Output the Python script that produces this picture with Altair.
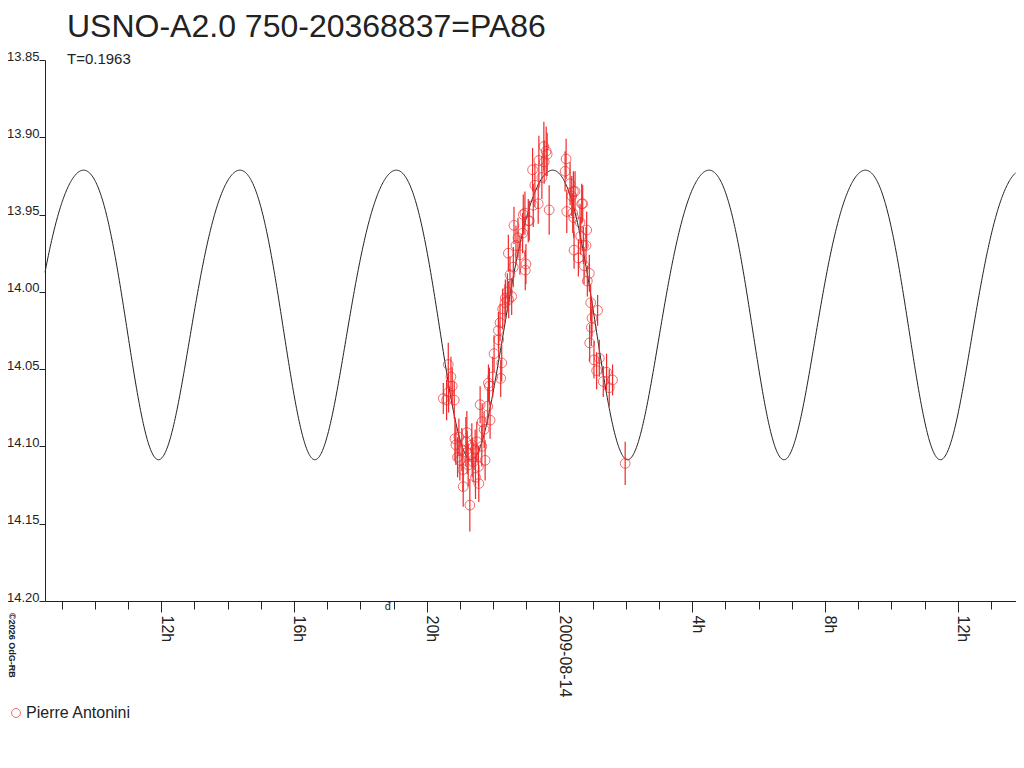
import altair as alt
import pandas as pd

FONT = "Liberation Sans"
RED = "#f02a2a"
INK = "#222222"

# Observations: hours UT counted from 2009-08-13 00:00, magnitude, error
obs_hours = [20.50, 20.60, 20.65, 20.66, 20.73, 20.77, 20.83, 20.85, 20.88, 20.93,
             20.97, 21.00, 21.06, 21.09, 21.10, 21.18, 21.21, 21.22, 21.25, 21.30,
             21.36, 21.37, 21.40, 21.46, 21.47, 21.51, 21.56, 21.57, 21.61, 21.66,
             21.67, 21.73, 21.76, 21.84, 21.86, 21.89, 21.91, 21.99, 22.03, 22.16,
             22.17, 22.21, 22.23, 22.26, 22.29, 22.36, 22.37, 22.43, 22.46, 22.47,
             22.51, 22.56, 22.61, 22.63, 22.69, 22.75, 22.81, 22.89, 22.91, 22.96,
             22.97, 22.99, 23.06, 23.09, 23.19, 23.21, 23.26, 23.36, 23.38, 23.47,
             23.53, 23.54, 23.60, 23.63, 23.69, 24.17, 24.20, 24.22, 24.32, 24.37,
             24.40, 24.42, 24.43, 24.44, 24.47, 24.57, 24.62, 24.64, 24.67, 24.70,
             24.72, 24.74, 24.80, 24.82, 24.84, 24.90, 24.91, 24.94, 24.96, 24.98,
             25.04, 25.12, 25.15, 25.20, 25.32, 25.42, 25.50, 25.60, 25.98]
obs_mag = [14.069, 14.070, 14.047, 14.065, 14.055, 14.061, 14.070, 14.095, 14.099, 14.107,
           14.094, 14.109, 14.102, 14.115, 14.126, 14.097, 14.091, 14.104, 14.112, 14.138,
           14.099, 14.107, 14.110, 14.102, 14.120, 14.097, 14.113, 14.124, 14.073, 14.100,
           14.084, 14.089, 14.109, 14.074, 14.059, 14.061, 14.083, 14.055, 14.040, 14.025,
           14.031, 14.020, 14.056, 14.046, 14.011, 14.007, 14.004, 14.000, 13.975, 14.005,
           13.989, 14.003, 13.984, 13.957, 13.970, 13.965, 13.976, 13.962, 13.950, 13.949,
           13.986, 13.982, 13.954, 13.954, 13.921, 13.944, 13.931, 13.943, 13.915, 13.926,
           13.906, 13.916, 13.909, 13.911, 13.947, 13.922, 13.914, 13.948, 13.930, 13.938,
           13.949, 13.935, 13.952, 13.973, 13.935, 13.978, 13.955, 13.964, 13.943, 13.943,
           13.970, 13.983, 13.970, 13.960, 13.993, 13.988, 14.033, 14.007, 14.023, 14.017,
           14.044, 14.051, 14.012, 14.043, 14.058, 14.052, 14.062, 14.057, 14.111]
obs_err = [0.010, 0.013, 0.014, 0.013, 0.013, 0.012, 0.012, 0.014, 0.013, 0.013,
           0.012, 0.013, 0.014, 0.014, 0.013, 0.016, 0.014, 0.014, 0.014, 0.017,
           0.014, 0.013, 0.013, 0.013, 0.014, 0.013, 0.013, 0.012, 0.012, 0.013,
           0.012, 0.012, 0.013, 0.012, 0.012, 0.012, 0.012, 0.013, 0.012, 0.012,
           0.012, 0.012, 0.012, 0.012, 0.013, 0.012, 0.012, 0.012, 0.012, 0.012,
           0.012, 0.012, 0.013, 0.012, 0.013, 0.013, 0.013, 0.013, 0.013, 0.014,
           0.013, 0.013, 0.014, 0.013, 0.014, 0.014, 0.014, 0.013, 0.016, 0.014,
           0.016, 0.014, 0.016, 0.014, 0.016, 0.013, 0.013, 0.014, 0.014, 0.013,
           0.013, 0.013, 0.013, 0.012, 0.013, 0.012, 0.012, 0.012, 0.013, 0.012,
           0.012, 0.012, 0.012, 0.012, 0.010, 0.012, 0.012, 0.012, 0.012, 0.012,
           0.012, 0.012, 0.010, 0.012, 0.010, 0.012, 0.012, 0.010, 0.014]
observer = "Pierre Antonini"

# Fitted light-curve model (period shown on the chart as T)
PERIOD_DAYS = 0.1963
EPOCH_HOURS = 11.95      # a time of faintest light, hours from 2009-08-13 00:00
MEAN_MAG = 14.006
AMP1 = 0.0935
AMP2_COS = 0.009
AMP2_SIN = -0.0026

x_domain = [8.5, 37.755]
y_domain = [13.85, 14.20]
hour_ticks = list(range(9, 38))     # every hour; labelled every 4 h
y_ticks = [13.85, 13.90, 13.95, 14.00, 14.05, 14.10, 14.15, 14.20]
marker_hours = [18.83]
marker_text = ["đ"]

title_text = "USNO-A2.0 750-20368837=PA86"
subtitle_text = "T=0.1963"
copyright_text = ["©2026 OdG-RB"]

W, H = 971, 541

xscale = alt.Scale(domain=x_domain, nice=False, zero=False)
yscale = alt.Scale(domain=y_domain, reverse=True, nice=False, zero=False)

yaxis = alt.Axis(values=y_ticks, format=".2f", title=None, grid=False,
                 tickSize=6, labelPadding=0, labelBaseline="alphabetic",
                 labelFontSize=13, labelFont=FONT, labelColor=INK,
                 labelFlush=False, labelOverlap=False,
                 domainColor=INK, tickColor=INK)

xaxis = alt.Axis(values=hour_ticks, orient="bottom", title=None, grid=False,
                 tickSize={"condition": {"test": "datum.value % 4 === 0", "value": 11}, "value": 8},
                 labelAngle=90, labelAlign="left",
                 labelBaseline="alphabetic", labelPadding=3,
                 labelFontSize=16, labelFont=FONT, labelColor=INK,
                 labelFlush=False, labelOverlap=False,
                 labelExpr="datum.value % 4 !== 0 ? '' : (datum.value == 24 ? '2009-08-14' : (datum.value % 24) + 'h')",
                 domainColor=INK, tickColor=INK)

df = pd.DataFrame({"hours": obs_hours, "mag": obs_mag, "err": obs_err})
df["observer"] = observer

curve = alt.Chart(alt.sequence(x_domain[0], x_domain[1], 0.02, as_="h")).transform_calculate(
    phi=f"2*PI*(datum.h - {EPOCH_HOURS})/({PERIOD_DAYS}*24)"
).transform_calculate(
    mag=f"{MEAN_MAG} + {AMP1}*cos(datum.phi) + {AMP2_COS}*cos(2*datum.phi) + {AMP2_SIN}*sin(2*datum.phi)"
).mark_line(color=INK, strokeWidth=1).encode(
    x=alt.X("h:Q", scale=xscale, axis=xaxis),
    y=alt.Y("mag:Q", scale=yscale, axis=yaxis),
)

bars = alt.Chart(df).transform_calculate(
    lo="datum.mag - datum.err", hi="datum.mag + datum.err"
).mark_rule(color=RED, strokeWidth=1.2).encode(
    x=alt.X("hours:Q", scale=xscale, axis=xaxis),
    y=alt.Y("lo:Q", scale=yscale, axis=yaxis),
    y2="hi:Q",
)

points = alt.Chart(df).mark_point(shape="circle", filled=False, size=95, strokeWidth=1).encode(
    x=alt.X("hours:Q", scale=xscale, axis=xaxis),
    y=alt.Y("mag:Q", scale=yscale, axis=yaxis),
    color=alt.Color("observer:N", scale=alt.Scale(range=[RED]),
                    legend=alt.Legend(title=None, orient="none", legendX=-37, legendY=645,
                                      symbolType="circle", symbolSize=80, symbolStrokeWidth=1,
                                      labelFontSize=16, labelFont=FONT, labelColor=INK,
                                      labelOffset=2, padding=0)),
)

marker = alt.Chart(pd.DataFrame({"h": marker_hours, "t": marker_text})).mark_text(
    fontSize=11, font=FONT, color=INK, baseline="middle"
).encode(
    x=alt.X("h:Q", scale=xscale, axis=xaxis),
    y=alt.value(H + 6),
    text="t:N",
)

copyright = alt.Chart(pd.DataFrame({"t": copyright_text})).mark_text(
    fontSize=9, font=FONT, fontWeight="bold", color=INK, angle=90,
    align="left", baseline="alphabetic"
).encode(
    x=alt.value(-36),
    y=alt.value(H + 12),
    text="t:N",
)

chart = alt.layer(curve, bars, points, marker, copyright).properties(
    width=W, height=H,
    title=alt.TitleParams(text=title_text, subtitle=subtitle_text, anchor="start",
                          frame="group", font=FONT, fontSize=32, fontWeight="normal",
                          color=INK, subtitleFont=FONT, subtitleFontSize=15,
                          subtitleColor=INK, subtitlePadding=8, dx=22, offset=-18),
    autosize=alt.AutoSizeParams(type="none"),
    padding={"left": 37, "top": 52, "right": 0, "bottom": 130},
).configure_view(stroke="transparent", strokeWidth=0).configure(
    background="white",
    style={"cell": {"stroke": "transparent", "strokeWidth": 0},
           "group-title": {"stroke": "transparent", "strokeWidth": 0},
           "group-subtitle": {"stroke": "transparent", "strokeWidth": 0}},
).configure_legend(strokeColor="transparent")

chart.save("out.html", embed_options={"renderer": "svg", "actions": False})
